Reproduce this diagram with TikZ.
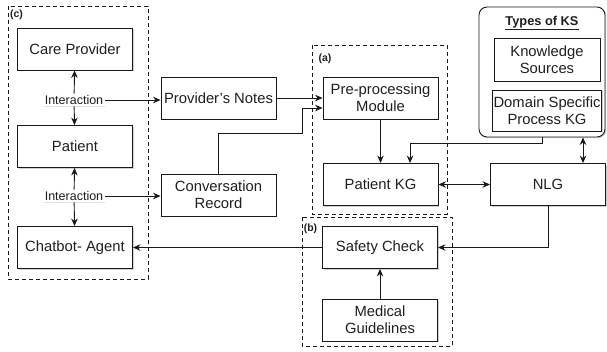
\documentclass[tikz,border=0pt]{standalone}
\usepackage{fontspec}
\setmainfont{Liberation Sans}
\usetikzlibrary{arrows.meta,shadows,positioning}
\tikzset{
  box/.style={draw=black!90, line width=0.9pt, fill=white, minimum width=115pt, minimum height=42pt,
    inner sep=1pt, align=center, text=black!88, font=\fontsize{14.8}{17}\selectfont,
    drop shadow={shadow xshift=1.2pt, shadow yshift=-1.2pt, fill=black!40, opacity=0.45}},
  ksbox/.style={box, minimum width=106pt},
  grp/.style={draw=black!90, line width=0.9pt, dash pattern=on 4pt off 3pt},
  lbl/.style={font=\bfseries\fontsize{10.5}{12}\selectfont, text=black!88, inner sep=0pt},
  inter/.style={fill=white, inner sep=1.5pt, text=black!88, font=\fontsize{12.5}{14}\selectfont,
    drop shadow={shadow xshift=0.8pt, shadow yshift=-0.8pt, fill=black!30, opacity=0.4}},
  conn/.style={draw=black!90, line width=0.9pt},
  arr/.style={conn, -{Stealth[length=7.5pt,width=6.5pt]}},
  darr/.style={conn, {Stealth[length=7.5pt,width=6.5pt]}-{Stealth[length=7.5pt,width=6.5pt]}},
}
\begin{document}
\begin{tikzpicture}[x=1pt,y=-1pt]
\useasboundingbox (0,0) rectangle (607,351);
% groups
\draw[grp] (8,6) rectangle (148,279);
\node[lbl] (lc) at (16.5,15) {(c)};
\draw[grp] (312,45) rectangle (447,214);
\node[lbl] (la) at (325,59) {(a)};
\draw[grp] (302,217) rectangle (452,346);
\node[lbl] (lb) at (310.5,229) {(b)};
% KS outer
\node[draw=black!90, line width=0.9pt, rounded corners=8pt, fill=white, minimum width=126pt, minimum height=130pt,
  drop shadow={shadow xshift=1.2pt, shadow yshift=-1.2pt, fill=black!40, opacity=0.45}] (ks) at (542,72) {};
\node[font=\bfseries\fontsize{12.8}{14}\selectfont, text=black!88] (kst) at (542,23) {\underline{Types of KS}};
\node[ksbox, minimum height=43pt] (kns) at (547,59.5) {Knowledge\\Sources};
\node[ksbox, minimum height=41pt] (dsp) at (547,110.5) {Domain Specific\\Process KG};
% boxes
\node[box] (care) at (75,49) {Care Provider};
\node[box] (pat) at (75,146.5) {Patient};
\node[box] (chat) at (75,247.5) {Chatbot- Agent};
\node[box] (notes) at (218.5,98) {Provider's Notes};
\node[box] (conv) at (218.5,195) {Conversation\\Record};
\node[box] (pre) at (380.5,98) {Pre-processing\\Module};
\node[box] (pkg) at (380.5,184.5) {Patient KG};
\node[box] (nlg) at (548,184.5) {NLG};
\node[box] (safe) at (380,247.5) {Safety Check};
\node[box] (med) at (380,320) {Medical\\Guidelines};
% interaction labels
\node[inter] (i1) at (74,100) {Interaction};
\node[inter] (i2) at (74,196) {Interaction};
% connectors
\draw[arr] (i1) -- (care);
\draw[arr] (i1) -- (pat);
\draw[arr] (i1.east) -- (notes.west |- i1.east);
\draw[arr] (i2) -- (pat);
\draw[arr] (i2) -- (chat);
\draw[arr] (i2.east) -- (conv.west |- i2.east);
\draw[arr] (notes.east) -- (pre.west |- notes.east);
\coordinate (c1) at (302,133);
\coordinate (c2) at (302,108);
\draw[arr] (conv.north) |- (c1) -- (c2) -- (pre.west |- c2);
\draw[arr] (pre) -- (pkg);
\coordinate (k1) at (542,143);
\coordinate (k2) at (410,143);
\draw[arr] (ks.south) -- (k1) -- (k2) -- (k2 |- pkg.north);
\coordinate (k3) at (583,137);
\draw[darr] (ks.south -| k3) -- (nlg.north -| k3);
\draw[darr] (pkg) -- (nlg);
\draw[arr] (nlg.south) |- (safe.east);
\draw[arr] (safe) -- (chat);
\draw[arr] (med) -- (safe);
\end{tikzpicture}
\end{document}
